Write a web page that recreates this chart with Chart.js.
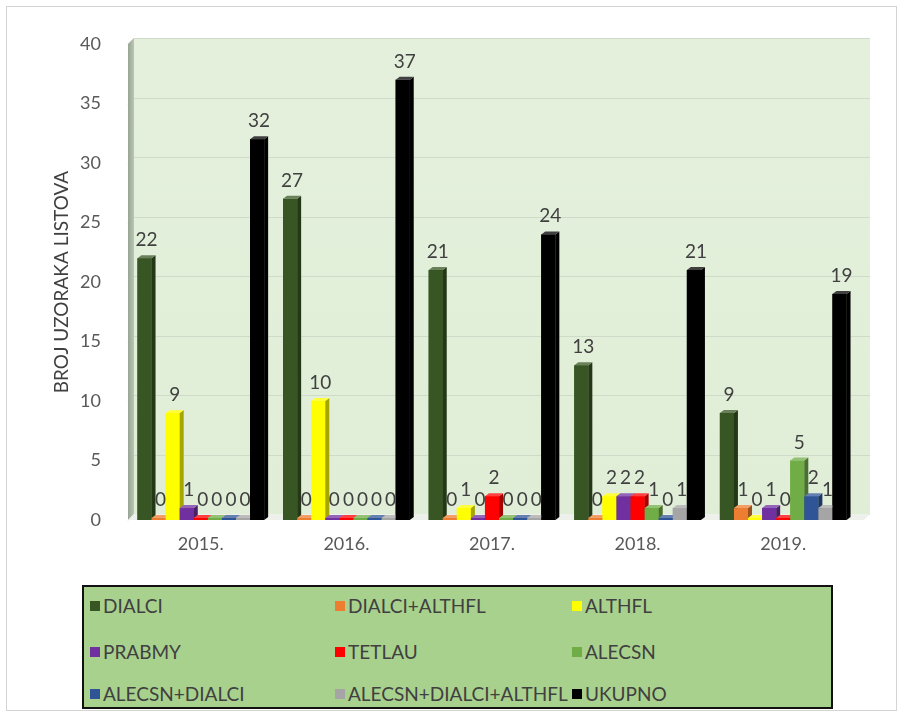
<!DOCTYPE html>
<html>
<head>
<meta charset="utf-8">
<script src="https://cdn.jsdelivr.net/npm/chart.js@4.4.1/dist/chart.umd.min.js"></script>
<style>
  html, body { margin: 0; padding: 0; background: #ffffff; }
  #wrap { position: relative; width: 905px; height: 720px; overflow: hidden; }
  #frame { position: absolute; left: 6px; top: 6px; width: 891px; height: 705px; border: 1px solid #d4d4d4; box-sizing: border-box; }
  #chartBox { position: absolute; left: 0; top: 0; width: 905px; height: 580px; }
  #legend { position: absolute; left: 82px; top: 585px; width: 751px; height: 124px; box-sizing: border-box;
            border: 2px solid #111; background: #a9d18e; }
  .li { position: absolute; height: 22px; line-height: 22px; font-family: Lato, 'Open Sans', sans-serif; font-size: 19px; color: #404040; white-space: nowrap; }
  .li span.m { position: absolute; left: 0; top: 6px; width: 10px; height: 10px; }
  .li span.t { position: absolute; left: 13px; top: 0; }
</style>
</head>
<body>
<div id="wrap">
  <div id="frame"></div>
  <div id="chartBox"><canvas id="c" width="905" height="580"></canvas></div>
  <div id="legend"></div>
</div>
<script>
// ---- data ----
const categories = ['2015.', '2016.', '2017.', '2018.', '2019.'];
const seriesNames = ['DIALCI', 'DIALCI+ALTHFL', 'ALTHFL', 'PRABMY', 'TETLAU', 'ALECSN', 'ALECSN+DIALCI', 'ALECSN+DIALCI+ALTHFL', 'UKUPNO'];
const dialci             = [22, 27, 21, 13, 9];
const dialciAlthfl       = [0, 0, 0, 0, 1];
const althfl             = [9, 10, 1, 2, 0];
const prabmy             = [1, 0, 0, 2, 1];
const tetlau             = [0, 0, 2, 2, 0];
const alecsn             = [0, 0, 0, 1, 5];
const alecsnDialci       = [0, 0, 0, 0, 2];
const alecsnDialciAlthfl = [0, 0, 0, 1, 1];
const ukupno             = [32, 37, 24, 21, 19];
const yTickValues = [0, 5, 10, 15, 20, 25, 30, 35, 40];
const yTitle = 'BROJ UZORAKA LISTOVA';

const seriesValues = [dialci, dialciAlthfl, althfl, prabmy, tetlau, alecsn, alecsnDialci, alecsnDialciAlthfl, ukupno];
const seriesColors = ['#375623', '#ed7d31', '#ffff00', '#7030a0', '#ff0000', '#70ad47', '#2f5597', '#a5a5a5', '#000000'];

function shade(hex, f) {
  const n = parseInt(hex.slice(1), 16);
  let r = (n >> 16) & 255, g = (n >> 8) & 255, b = n & 255;
  if (f < 0) { r = Math.round(r * (1 + f)); g = Math.round(g * (1 + f)); b = Math.round(b * (1 + f)); }
  else { r = Math.round(r + (255 - r) * f); g = Math.round(g + (255 - g) * f); b = Math.round(b + (255 - b) * f); }
  return `rgb(${r},${g},${b})`;
}

const DEPTH_X = 4, DEPTH_Y = 3;
const FONT = 'Lato, "Open Sans", sans-serif';

const wallPlugin = {
  id: 'wall',
  beforeDatasetsDraw(chart) {
    const { ctx, chartArea: a, scales: { y } } = chart;
    const dx = 6, dy = 6;
    ctx.save();
    const g = ctx.createLinearGradient(0, a.top - dy, 0, a.bottom - dy);
    g.addColorStop(0, '#e4f0dc');
    g.addColorStop(1, '#e0eed7');
    ctx.fillStyle = g;
    ctx.fillRect(a.left + dx, a.top - dy, a.right + 14 - (a.left + dx), a.bottom - a.top);
    ctx.strokeStyle = '#d0dac9';
    ctx.lineWidth = 1;
    yTickValues.forEach(v => {
      const py = Math.round(y.getPixelForValue(v) - dy) + 0.5;
      ctx.beginPath();
      ctx.moveTo(a.left + dx, py);
      ctx.lineTo(a.right + 14, py);
      ctx.stroke();
      ctx.beginPath();
      ctx.moveTo(a.left, py + dy);
      ctx.lineTo(a.left + dx, py);
      ctx.stroke();
    });
    const sg = ctx.createLinearGradient(a.left, 0, a.left + dx, 0);
    sg.addColorStop(0, '#98a595');
    sg.addColorStop(1, '#b9c6b2');
    ctx.fillStyle = sg;
    ctx.beginPath();
    ctx.moveTo(a.left, a.top);
    ctx.lineTo(a.left + dx, a.top - dy);
    ctx.lineTo(a.left + dx, a.bottom - dy);
    ctx.lineTo(a.left, a.bottom);
    ctx.closePath();
    ctx.fill();
    ctx.fillStyle = '#eef0ec';
    ctx.beginPath();
    ctx.moveTo(a.left, a.bottom);
    ctx.lineTo(a.left + dx, a.bottom - dy);
    ctx.lineTo(a.right + 14, a.bottom - dy);
    ctx.lineTo(a.right + 8, a.bottom);
    ctx.closePath();
    ctx.fill();
    ctx.restore();
  },
  afterDatasetsDraw(chart) {
    const { ctx } = chart;
    ctx.save();
    const n = chart.data.labels.length;
    for (let j = 0; j < n; j++) {
      chart.data.datasets.forEach((ds, i) => {
        const el = chart.getDatasetMeta(i).data[j];
        const col = seriesColors[i];
        const x0 = el.x - el.width / 2, x1 = el.x + el.width / 2;
        const top = el.y, base = el.base;
        ctx.fillStyle = col;
        ctx.fillRect(x0, top, x1 - x0, base - top);
        ctx.fillStyle = shade(col, -0.35);
        ctx.beginPath();
        ctx.moveTo(x1, top); ctx.lineTo(x1 + DEPTH_X, top - DEPTH_Y);
        ctx.lineTo(x1 + DEPTH_X, base - DEPTH_Y); ctx.lineTo(x1, base);
        ctx.closePath(); ctx.fill();
        ctx.fillStyle = shade(col, 0.25);
        ctx.beginPath();
        ctx.moveTo(x0, top); ctx.lineTo(x0 + DEPTH_X, top - DEPTH_Y);
        ctx.lineTo(x1 + DEPTH_X, top - DEPTH_Y); ctx.lineTo(x1, top);
        ctx.closePath(); ctx.fill();
      });
    }
    ctx.fillStyle = '#404040';
    ctx.font = '19px ' + FONT;
    ctx.textAlign = 'center';
    ctx.textBaseline = 'alphabetic';
    chart.data.datasets.forEach((ds, i) => {
      chart.getDatasetMeta(i).data.forEach((el, j) => {
        ctx.fillText(String(ds.data[j]), el.x + 2, el.y - 12);
      });
    });
    ctx.restore();
  }
};

const chart = new Chart(document.getElementById('c'), {
  type: 'bar',
  data: {
    labels: categories,
    datasets: seriesNames.map((name, i) => ({
      label: name,
      data: seriesValues[i],
      backgroundColor: seriesColors[i],
      borderWidth: 0,
      minBarLength: 2,
      categoryPercentage: 0.87,
      barPercentage: 1.0
    }))
  },
  options: {
    responsive: false,
    animation: false,
    layout: { padding: { left: 0, right: 49, top: 44, bottom: 20 } },
    plugins: { legend: { display: false }, tooltip: { enabled: false } },
    scales: {
      x: {
        grid: { display: false, drawTicks: false },
        border: { display: false },
        ticks: { color: '#595959', font: { family: FONT, size: 18 }, padding: 13 },
        afterFit(s) { s.height = 40; }
      },
      y: {
        min: 0, max: 40,
        afterBuildTicks(s) { s.ticks = yTickValues.map(v => ({ value: v })); },
        grid: { display: false, drawTicks: false },
        border: { display: false },
        ticks: { color: '#595959', font: { family: FONT, size: 18 }, padding: 27 },
        title: { display: true, text: yTitle, color: '#404040', font: { family: FONT, size: 19 }, padding: { top: 50, bottom: 0 } },
        afterFit(s) { s.width = 128; }
      }
    }
  },
  plugins: [wallPlugin]
});

const legendEl = document.getElementById('legend');
const colX = [6, 251, 488];
const rowY = [8, 54, 96];
chart.data.datasets.forEach((ds, i) => {
  const item = document.createElement('div');
  item.className = 'li';
  item.style.left = colX[i % 3] + 'px';
  item.style.top = rowY[Math.floor(i / 3)] + 'px';
  item.innerHTML = `<span class="m" style="background:${ds.backgroundColor}"></span><span class="t"></span>`;
  item.querySelector('.t').textContent = ds.label;
  legendEl.appendChild(item);
});
</script>
</body>
</html>
